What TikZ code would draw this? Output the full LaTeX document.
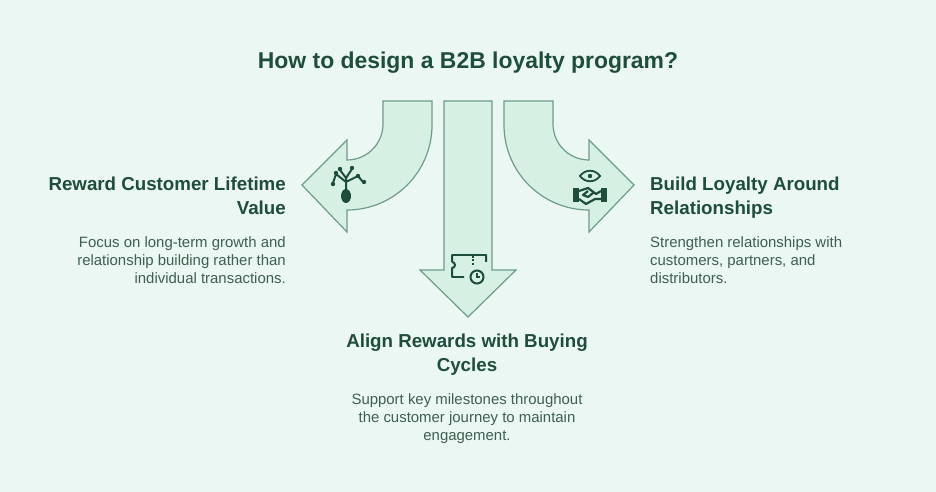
\documentclass[tikz,border=0pt]{standalone}
\usepackage{fontspec}
\setmainfont{Liberation Sans}
\definecolor{bgc}{HTML}{EBF7F2}
\definecolor{arrowfill}{HTML}{D6F0E4}
\definecolor{arrowline}{HTML}{6E9C8A}
\definecolor{ink}{HTML}{1D4D3B}
\definecolor{bodyc}{HTML}{3E5F52}
\tikzset{
  bigarrow/.style={fill=arrowfill, draw=arrowline, line width=1.2pt, line join=miter},
  heading/.style={font=\bfseries\fontsize{18.8}{24}\selectfont, text=ink, inner sep=0pt},
  body/.style={font=\fontsize{15}{18.5}\selectfont, text=bodyc, inner sep=0pt},
  icon/.style={fill=ink, draw=none}
}
\begin{document}
\begin{tikzpicture}[x=1bp,y=-1bp]
\fill[bgc] (0,0) rectangle (936,492);
\useasboundingbox (0,0) rectangle (936,492);
\node[font=\bfseries\fontsize{23}{26}\selectfont, text=ink] (title) at (468,63) {How to design a B2B loyalty program?};
% arrows
\draw[bigarrow] (383,101) -- (432,101) -- (432,125) arc[start angle=0,end angle=90,radius=85]
  -- (347,232) -- (302,185) -- (347,140) -- (347,160) arc[start angle=90,end angle=0,radius=36] -- cycle;
\draw[bigarrow] (444,101) -- (492,101) -- (492,270) -- (516,270) -- (468,317) -- (420,270) -- (444,270) -- cycle;
\draw[bigarrow] (553,101) -- (504,101) -- (504,125) arc[start angle=180,end angle=90,radius=85]
  -- (589,232) -- (634,185) -- (589,140) -- (589,160) arc[start angle=90,end angle=180,radius=36] -- cycle;
% icon: plant
\fill[icon] (346,196) ellipse (5 and 7);
\draw[ink, line width=2pt, line cap=round] (346,189) -- (346,178) (346,182) -- (336,174) (346,182) -- (358,176)
  (346,178) -- (340,170) (346,178) -- (352,169) (336,174) -- (333,183) (358,176) -- (363,182);
\foreach \p in {(333,184),(336,173),(340,169),(352,168),(358,176),(364,182)} \fill[icon] \p circle (2.2);
% icon: ticket with clock
\draw[ink, line width=2pt, line join=round] (464,277) -- (452,277) -- (452,268) arc[start angle=90,end angle=-90,radius=3]
  (452,262) -- (452,255) -- (486,255) -- (486,262);
\draw[ink, line width=1.2pt, dash pattern=on 2pt off 1.5pt] (473,256) -- (473,266);
\draw[ink, line width=2pt] (477,277) circle (6.5);
\draw[ink, line width=1.5pt] (477,273) -- (477,277) -- (480,277);
% icon: handshake with eye
\draw[ink, line width=1.8pt] (580,176) .. controls (585,169) and (595,169) .. (600,176) .. controls (595,183) and (585,183) .. cycle;
\fill[icon] (590,176) circle (2.2);
\fill[icon] (573,188) rectangle (579,202);
\fill[icon] (601,188) rectangle (607,202);
\draw[ink, line width=2.2pt, line join=round] (579,191) -- (588,188) -- (596,194) -- (601,191)
  (579,199) -- (586,204) -- (595,199) -- (601,199) (588,191) -- (583,195) -- (588,197) -- (593,193);
% left text
\node[heading, anchor=north east, align=right] (lhead) at (286,177) {Reward Customer Lifetime\\Value};
\node[body, anchor=north east, align=right] (lbody) at (286,236) {Focus on long-term growth and\\relationship building rather than\\individual transactions.};
% right text
\node[heading, anchor=north west, align=left] (rhead) at (650,177) {Build Loyalty Around\\Relationships};
\node[body, anchor=north west, align=left] (rbody) at (650,236) {Strengthen relationships with\\customers, partners, and\\distributors.};
% bottom text
\node[heading, anchor=north, align=center] (bhead) at (467,334) {Align Rewards with Buying\\Cycles};
\node[body, anchor=north, align=center] (bbody) at (467,393) {Support key milestones throughout\\the customer journey to maintain\\engagement.};
\end{tikzpicture}
\end{document}
